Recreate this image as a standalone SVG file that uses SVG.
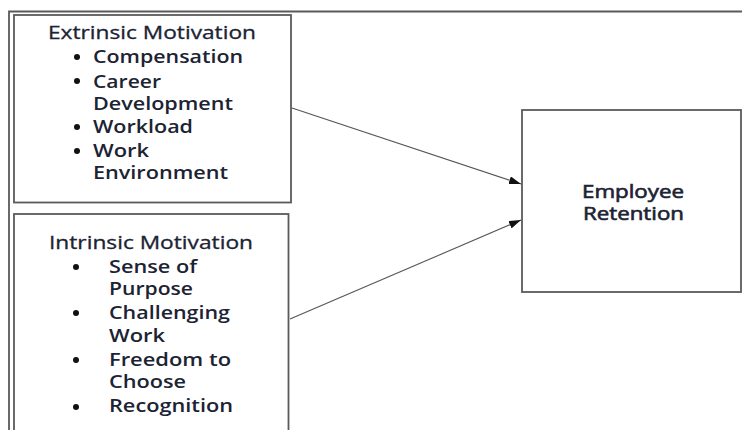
<svg xmlns="http://www.w3.org/2000/svg" width="742" height="430" viewBox="0 0 742 430">
  <style>
    .frame { fill: none; stroke: #5a5a5a; stroke-width: 1.8; }
    .box { fill: #fff; stroke: #5a5a5a; stroke-width: 1.8; }
    .t { font-family: "Open Sans", "Liberation Sans", sans-serif; font-size: 18px; fill: #1c2333; }
    .h { font-weight: 400; stroke: #1c2333; stroke-width: 0.3; }
    .b { font-weight: 600; }
    .r { font-weight: 400; stroke: #1c2333; stroke-width: 0.6; }
    .dot { fill: #111; }
    .edge { stroke: #555; stroke-width: 1.1; fill: none; marker-end: url(#arrow); }
  </style>
  <defs>
    <marker id="arrow" viewBox="0 0 12 8" refX="12" refY="4" markerWidth="12" markerHeight="8" markerUnits="userSpaceOnUse" orient="auto">
      <path d="M0,0 L12,4 L0,8 z" fill="#111"/>
    </marker>
  </defs>
  <rect width="742" height="430" fill="#fff"/>

  <!-- outer page frame -->
  <path class="frame" d="M9,430 V11.5 H742"/>

  <g id="extrinsic">
    <rect class="box" x="14" y="15" width="277" height="187.5"/>
    <text class="t h" x="48" y="38.5" textLength="208" lengthAdjust="spacingAndGlyphs">Extrinsic Motivation</text>
    <circle class="dot" cx="77" cy="57" r="3"/>
    <text class="t b" x="93" y="63" textLength="150" lengthAdjust="spacingAndGlyphs">Compensation</text>
    <circle class="dot" cx="77" cy="81" r="3"/>
    <text class="t b" x="93" y="87.5" textLength="68" lengthAdjust="spacingAndGlyphs">Career</text>
    <text class="t b" x="93" y="110" textLength="140" lengthAdjust="spacingAndGlyphs">Development</text>
    <circle class="dot" cx="77" cy="127" r="3"/>
    <text class="t b" x="93" y="133" textLength="100" lengthAdjust="spacingAndGlyphs">Workload</text>
    <circle class="dot" cx="77" cy="151" r="3"/>
    <text class="t b" x="93" y="157" textLength="56" lengthAdjust="spacingAndGlyphs">Work</text>
    <text class="t b" x="93" y="179" textLength="135" lengthAdjust="spacingAndGlyphs">Environment</text>
  </g>

  <g id="intrinsic">
    <rect class="box" x="14" y="214" width="274.5" height="230"/>
    <text class="t h" x="49" y="249" textLength="204" lengthAdjust="spacingAndGlyphs">Intrinsic Motivation</text>
    <circle class="dot" cx="76" cy="267" r="3"/>
    <text class="t b" x="109" y="273" textLength="88" lengthAdjust="spacingAndGlyphs">Sense of</text>
    <text class="t b" x="109" y="295" textLength="84" lengthAdjust="spacingAndGlyphs">Purpose</text>
    <circle class="dot" cx="76" cy="313" r="3"/>
    <text class="t b" x="109" y="319" textLength="121" lengthAdjust="spacingAndGlyphs">Challenging</text>
    <text class="t b" x="109" y="342" textLength="56" lengthAdjust="spacingAndGlyphs">Work</text>
    <circle class="dot" cx="76" cy="360" r="3"/>
    <text class="t b" x="109" y="366" textLength="122" lengthAdjust="spacingAndGlyphs">Freedom to</text>
    <text class="t b" x="109" y="388" textLength="77" lengthAdjust="spacingAndGlyphs">Choose</text>
    <circle class="dot" cx="76" cy="407" r="3"/>
    <text class="t b" x="109" y="412" textLength="124" lengthAdjust="spacingAndGlyphs">Recognition</text>
  </g>

  <g id="retention">
    <rect class="box" x="522" y="110" width="219" height="182"/>
    <text class="t r" x="582" y="198" textLength="102" lengthAdjust="spacingAndGlyphs">Employee</text>
    <text class="t r" x="583" y="220" textLength="101" lengthAdjust="spacingAndGlyphs">Retention</text>
  </g>

  <g id="connectors">
    <line class="edge" x1="292" y1="108" x2="521" y2="184"/>
    <line class="edge" x1="290" y1="319" x2="521" y2="220"/>
  </g>
</svg>
